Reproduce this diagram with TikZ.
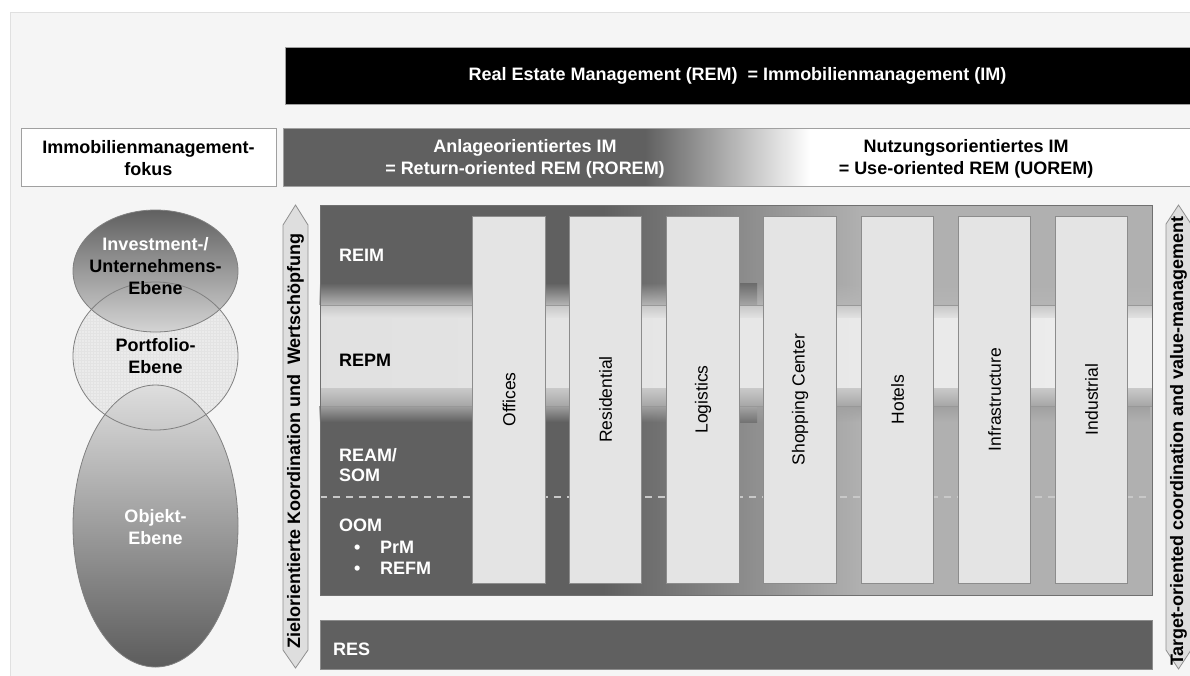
\documentclass[tikz,border=0pt]{standalone}
\usepackage{fontspec}
\setmainfont{Liberation Sans}
\usetikzlibrary{fadings,patterns}
\definecolor{bgc}{HTML}{F5F5F5}
\definecolor{bgline}{HTML}{E0E0E0}
\definecolor{dk}{HTML}{606060}
\definecolor{lt}{HTML}{B0B0B0}
\definecolor{colfill}{HTML}{E4E4E4}
\definecolor{colline}{HTML}{8C8C8C}
\definecolor{boxline}{HTML}{A0A0A0}
\definecolor{ellline}{HTML}{808080}
\definecolor{arrfill}{HTML}{DEDEDE}
\definecolor{arrline}{HTML}{909090}
\definecolor{bandline}{HTML}{989898}
\definecolor{dashc}{HTML}{C8C8C8}
\definecolor{mainline}{HTML}{707070}
\begin{document}
\begin{tikzpicture}[x=1pt,y=-1pt,
  every node/.style={inner sep=0pt, outer sep=0pt},
  bigfont/.style={font=\bfseries\fontsize{18}{22}\selectfont},
  lbl/.style={bigfont, anchor=base west},
  colbox/.style={draw=colline, fill=colfill, line width=0.8pt, rotate=90,
    minimum width=367pt, minimum height=72.5pt, font=\fontsize{17.5}{21}\selectfont},
  ellipseline/.style={draw=ellline, line width=0.8pt},
  arrowbody/.style={fill=arrfill, draw=arrline, line width=0.8pt}]
\useasboundingbox (0,0) rectangle (1190,675);
\fill[white] (0,0) rectangle (1190,675);
\filldraw[fill=bgc, draw=bgline] (10,12) rectangle (1192,677);

% top black bar
\node[draw=boxline, fill=black, minimum width=905pt, minimum height=57pt, anchor=north west,
  text=white, bigfont] (rem) at (285,47) {Real Estate Management (REM)\ \ = Immobilienmanagement (IM)};

% focus gradient bar
\fill[dk] (283,128) rectangle (645.5,186);
\shade[left color=dk, right color=white] (645,128) rectangle (810.5,186);
\fill[white] (810,128) rectangle (1190,186);
\node[draw=boxline, minimum width=907pt, minimum height=58pt, anchor=north west] (focusbar) at (283,128) {};
\node[bigfont, align=center, text=white] (aim) at (525,158.5) {Anlageorientiertes IM\\= Return-oriented REM (ROREM)};
\node[bigfont, align=center] (nim) at (966,158.5) {Nutzungsorientiertes IM\\= Use-oriented REM (UOREM)};

% Immobilienmanagement-fokus
\node[draw=boxline, fill=white, minimum width=255pt, minimum height=58pt, anchor=north west] (fokusbox) at (21,128) {};
\node[bigfont, align=center] (fokus) at (148.5,158.5) {Immobilienmanagement-\\fokus};

% ellipses
\fill[fill=black!8] (155.5,356) ellipse [x radius=82.5, y radius=74];
\fill[pattern=grid, pattern color=black!11] (155.5,356) ellipse [x radius=82.5, y radius=74];
\shade[top color=dk, bottom color=black!17] (155.5,271) ellipse [x radius=82.5, y radius=61];
\shade[top color=black!13, bottom color=black!64] (155.5,526) ellipse [x radius=82.5, y radius=141];
\draw[ellipseline] (155.5,356) ellipse [x radius=82.5, y radius=74];
\draw[ellipseline] (155.5,271) ellipse [x radius=82.5, y radius=61];
\draw[ellipseline] (155.5,526) ellipse [x radius=82.5, y radius=141];
\node[bigfont, align=center] (inv) at (155.5,266) {\textcolor{white}{Investment-/}\\Unternehmens-\\Ebene};
\node[bigfont, align=center] (port) at (155.5,356) {Portfolio-\\Ebene};
\node[bigfont, align=center, text=white] (obj) at (155.5,527.5) {Objekt-\\Ebene};

% vertical arrows
\filldraw[arrowbody] (283,225) -- (295.5,205) -- (308,225) -- (308,650) -- (295.5,668) -- (283,650) -- cycle;
\node[bigfont, rotate=90] (zk) at (295.5,441) {Zielorientierte Koordination und\ \ Wertschöpfung};
\filldraw[arrowbody] (1166,224) -- (1178.5,205) -- (1191,224) -- (1191,650) -- (1178.5,669) -- (1166,650) -- cycle;
\node[bigfont, rotate=90] (tc) at (1178.5,441) {Target-oriented coordination and value-management};

% main box background
\fill[dk] (320,205) rectangle (603.5,595);
\shade[left color=dk, right color=lt] (603,205) rectangle (860.5,595);
\fill[lt] (860,205) rectangle (1152,595);
% bands
\fill[black!29, path fading=north] (320,283) rectangle (1152,305);
\shade[top color=black!22, bottom color=black!11] (320,305) rectangle (1152,318.5);
\shade[left color=black!12, right color=black!7] (320,318) rectangle (1152,388.5);
\shade[top color=black!21, bottom color=black!35] (320,388) rectangle (1152,406);
\fill[black!37, path fading=south] (320,406) rectangle (1152,422);
\shade[top color=black!58, bottom color=black!35] (739,283) rectangle (757,305);
\shade[top color=black!35, bottom color=black!55] (739,406) rectangle (757,422);
\draw[bandline, line width=1pt] (320,305) -- (1152,305);
\draw[bandline, line width=1pt] (320,406) -- (1152,406);
\draw[dashc, line width=1.2pt, dash pattern=on 7pt off 6pt] (320,497) -- (1152,497);
\draw[mainline, line width=1pt] (320,205) rectangle (1152,595);

% row labels
\node[lbl, text=white] (reim) at (339,261) {REIM};
\node[lbl] (repm) at (339,366) {REPM};
\node[lbl, text=white] (ream) at (339,461.3) {REAM/};
\node[lbl, text=white] (som) at (339,481.3) {SOM};
\node[lbl, text=white] (oom) at (339,531.3) {OOM};
\node[lbl, text=white] (prmb) at (354,553) {\textbullet};
\node[lbl, text=white] (prm) at (380,553) {PrM};
\node[lbl, text=white] (refmb) at (354,574.3) {\textbullet};
\node[lbl, text=white] (refm) at (380,574.3) {REFM};

% columns
\node[colbox] (offices) at (509,399.5) {Offices};
\node[colbox] (residential) at (605.5,399.5) {Residential};
\node[colbox] (logistics) at (703,399.5) {Logistics};
\node[colbox] (shopping) at (800,399.5) {Shopping Center};
\node[colbox] (hotels) at (897.5,399.5) {Hotels};
\node[colbox] (infra) at (994.5,399.5) {Infrastructure};
\node[colbox] (industrial) at (1091.5,399.5) {Industrial};

% RES bar
\node[fill=dk, draw=colline, minimum width=832pt, minimum height=49pt, anchor=north west] (res) at (320,620) {};
\node[lbl, text=white] (reslbl) at (333,655) {RES};
\end{tikzpicture}
\end{document}
